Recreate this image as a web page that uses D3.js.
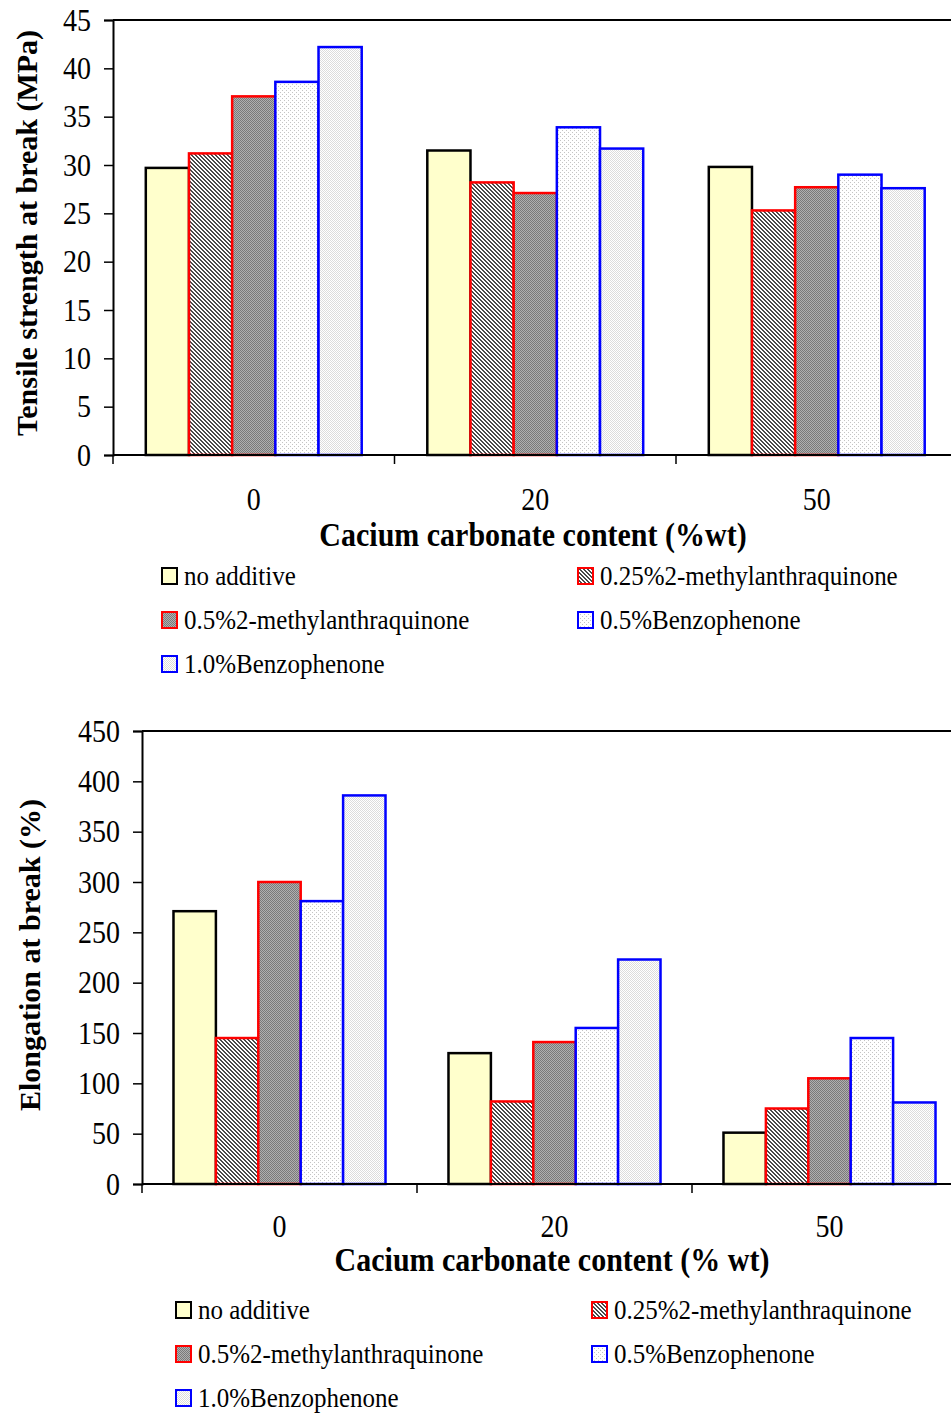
<!DOCTYPE html>
<html>
<head>
<meta charset="utf-8">
<script src="https://cdn.jsdelivr.net/npm/d3@7"></script>
<style>
  body { margin: 0; background: #fff; }
  svg text { font-family: "Liberation Serif", "Times New Roman", serif; fill: #000; }
</style>
</head>
<body>
<div id="chart-area"></div>
<script>
// data
const categories = ["0", "20", "50"]
const series = ["no additive", "0.25%2-methylanthraquinone", "0.5%2-methylanthraquinone",
                "0.5%Benzophenone", "1.0%Benzophenone"]
// one row per calcium carbonate content, one value per series
const tensile = [
  [29.7, 31.2, 37.1, 38.6, 42.2],
  [31.5, 28.2, 27.1, 33.9, 31.7],
  [29.8, 25.3, 27.7, 29.0, 27.6]
]
const elongation = [
  [271, 145, 300, 281, 386],
  [130, 82, 141, 155, 223],
  [51, 75, 105, 145, 81]
]
const tensileTicks = d3.range(0, 46, 5)
const elongationTicks = d3.range(0, 451, 50)

const strokes = ["#000", "#ff0000", "#ff0000", "#0000ff", "#0000ff"]
// the scanned text is a bit taller than it is wide
const stretch = "scale(1,1.12)"

const svg = d3.select("#chart-area").append("svg")
    .attr("width", 951)
    .attr("height", 1414)

// fill patterns like the old excel hatches
const defs = svg.append("defs")
function pattern(id, size, bg, pixels, color) {
  const p = defs.append("pattern")
      .attr("id", id)
      .attr("width", size)
      .attr("height", size)
      .attr("patternUnits", "userSpaceOnUse")
  p.append("rect").attr("width", size).attr("height", size).attr("fill", bg)
  pixels.forEach(([x, y]) => {
    p.append("rect").attr("x", x).attr("y", y).attr("width", 1).attr("height", 1).attr("fill", color)
  })
}
pattern("p0", 4, "#ffffcc", [], "#ffffcc")
pattern("p1", 4, "#ffffff", [[0,0],[1,0],[1,1],[2,1],[2,2],[3,2],[3,3],[0,3]], "#4a4a4a")
pattern("p2", 2, "#b0b0b0", [[0,0],[1,1]], "#7a7a7a")
pattern("p3", 4, "#ffffff", [[0,0],[2,2]], "#c4c4c4")
pattern("p4", 2, "#ffffff", [[0,0],[1,1]], "#dcdcdc")
const fills = series.map((s, i) => "url(#p" + i + ")")

function drawChart(opt) {
  const g = svg.append("g")

  const x0 = d3.scaleBand()
      .domain(categories)
      .range([opt.left, opt.right])
      .paddingInner(opt.pad)
      .paddingOuter(opt.pad / 2)
  const x1 = d3.scaleBand()
      .domain(d3.range(series.length))
      .range([0, x0.bandwidth()])
  const y = d3.scaleLinear()
      .domain([0, opt.max])
      .range([opt.bottom, opt.top])

  // bars
  categories.forEach((c, ci) => {
    g.selectAll(null)
      .data(opt.values[ci])
      .enter().append("rect")
        .attr("x", (d, i) => x0(c) + x1(i))
        .attr("y", d => y(d))
        .attr("width", x1.bandwidth())
        .attr("height", d => y(0) - y(d))
        .attr("fill", (d, i) => fills[i])
        .attr("stroke", (d, i) => strokes[i])
        .attr("stroke-width", 2.5)
  })

  // y axis
  const yAxis = g.append("g")
      .attr("transform", "translate(" + opt.left + ",0)")
      .call(d3.axisLeft(y).tickValues(opt.ticks).tickSize(9).tickPadding(13))
  yAxis.selectAll("text")
      .attr("font-size", opt.tickSize)
      .attr("transform", stretch)
  yAxis.select(".domain").attr("stroke-width", 2)
  yAxis.selectAll(".tick line").attr("stroke-width", 1.5)

  // x axis, labels under the bar groups, ticks between groups
  const xAxis = g.append("g")
      .attr("transform", "translate(0," + opt.bottom + ")")
      .call(d3.axisBottom(x0).tickSize(0))
  xAxis.selectAll("text")
      .attr("font-size", opt.tickSize)
      .attr("y", 0)
      .attr("transform", "translate(0," + opt.labelPad + ") " + stretch)
  xAxis.select(".domain").remove()
  g.append("line")
      .attr("x1", opt.left).attr("x2", 951)
      .attr("y1", opt.bottom).attr("y2", opt.bottom)
      .attr("stroke", "#000").attr("stroke-width", 2)
  g.selectAll(null)
    .data(d3.range(categories.length + 1))
    .enter().append("line")
      .attr("x1", i => opt.left + i * x0.step())
      .attr("x2", i => opt.left + i * x0.step())
      .attr("y1", opt.bottom)
      .attr("y2", opt.bottom + 9)
      .attr("stroke", "#000")
      .attr("stroke-width", 1.5)

  // top frame line
  g.append("line")
      .attr("x1", opt.left).attr("x2", 951)
      .attr("y1", opt.top).attr("y2", opt.top)
      .attr("stroke", "#000").attr("stroke-width", 2)

  // titles
  g.append("text")
      .attr("transform", "translate(" + opt.xTitleX + "," + opt.xTitleY + ") " + stretch)
      .attr("text-anchor", "middle")
      .attr("font-size", 30)
      .attr("font-weight", "bold")
      .text(opt.xTitle)
  g.append("text")
      .attr("transform", "translate(" + opt.yTitleX + "," + opt.yTitleY + ") rotate(-90)")
      .attr("text-anchor", "middle")
      .attr("font-size", 30)
      .attr("font-weight", "bold")
      .text(opt.yTitle)

  // legend
  const leg = g.selectAll(null)
    .data(series)
    .enter().append("g")
      .attr("transform", (d, i) => "translate(" + (i % 2 ? opt.legX2 : opt.legX1) + "," +
            (opt.legY + Math.floor(i / 2) * 44) + ")")
  leg.append("rect")
      .attr("x", 0).attr("y", -8)
      .attr("width", 15).attr("height", 16)
      .attr("fill", (d, i) => fills[i])
      .attr("stroke", (d, i) => strokes[i])
      .attr("stroke-width", 2)
  leg.append("text")
      .attr("transform", "translate(22,9) " + stretch)
      .attr("font-size", 25)
      .text(d => d)
}

drawChart({
  values: tensile, max: 45, ticks: tensileTicks,
  left: 113, right: 957.5, top: 20, bottom: 455, pad: 0.233,
  tickSize: 28, labelPad: 33,
  xTitle: "Cacium carbonate content (%wt)", xTitleX: 533, xTitleY: 546,
  yTitle: "Tensile strength at break (MPa)", yTitleX: 37, yTitleY: 233,
  legX1: 162, legX2: 578, legY: 576
})

drawChart({
  values: elongation, max: 450, ticks: elongationTicks,
  left: 142, right: 967, top: 731, bottom: 1184, pad: 0.229,
  tickSize: 28, labelPad: 31,
  xTitle: "Cacium carbonate content (% wt)", xTitleX: 552, xTitleY: 1271,
  yTitle: "Elongation at break (%)", yTitleX: 40, yTitleY: 955,
  legX1: 176, legX2: 592, legY: 1310
})
</script>
</body>
</html>
